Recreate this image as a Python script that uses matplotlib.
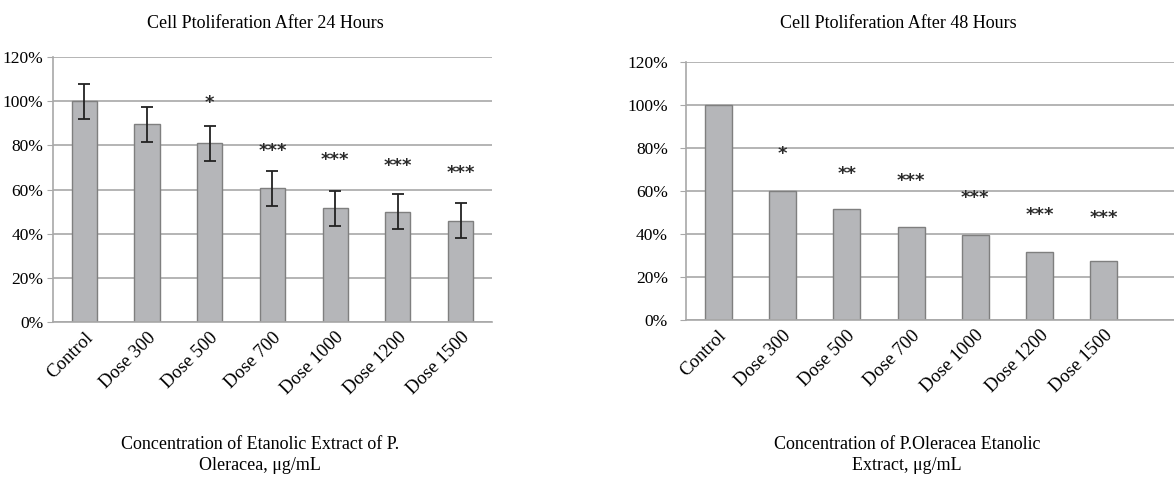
import matplotlib.pyplot as plt
from matplotlib.ticker import PercentFormatter

plt.rcParams['font.family'] = ['Liberation Serif', 'DejaVu Serif']

categories = ['Control', 'Dose 300', 'Dose 500', 'Dose 700', 'Dose 1000', 'Dose 1200', 'Dose 1500']

# 24 hours (percent of control)
vals_24 = [100, 89.5, 81, 60.5, 51.5, 50, 46]
err_24 = [8, 8, 8, 8, 8, 8, 8]
stars_24 = ['', '', '*', '***', '***', '***', '***']
star_y_24 = [0, 0, 99, 77.5, 73.5, 70.5, 67.5]

# 48 hours
vals_48 = [100, 60, 51.5, 43.5, 39.5, 31.5, 27.5]
stars_48 = ['', '*', '**', '***', '***', '***', '***']
star_y_48 = [0, 77.5, 68, 64.5, 57, 49, 47.5]

bar_color = '#b5b6b9'
edge_color = '#7f7f7f'
grid_color = '#a8a8a8'

fig = plt.figure(figsize=(11.74, 4.8), dpi=100)
ax1 = fig.add_axes([0.0451, 0.329, 0.374, 0.552])
ax2 = fig.add_axes([0.5843, 0.3333, 0.4157, 0.537])


def style(ax, ypad):
    ax.set_ylim(0, 120)
    ax.set_yticks(range(0, 121, 20))
    ax.yaxis.set_major_formatter(PercentFormatter(decimals=0))
    ax.grid(axis='y', color=grid_color, linewidth=1.2)
    ax.set_axisbelow(True)
    for s in ['top', 'right']:
        ax.spines[s].set_visible(False)
    for s in ['left', 'bottom']:
        ax.spines[s].set_color(grid_color)
        ax.spines[s].set_linewidth(1.2)
    ax.tick_params(axis='y', length=4, color=grid_color, labelsize=12.5, pad=ypad)
    ax.tick_params(axis='x', length=0, labelsize=13.5, pad=5)
    ax.set_xticks(range(len(categories)))
    ax.set_xticklabels(categories, rotation=45, ha='right', rotation_mode='anchor')


x = range(len(categories))

ax1.bar(x, vals_24, width=0.4, color=bar_color, edgecolor=edge_color, linewidth=1)
ax1.errorbar(x, vals_24, yerr=err_24, fmt='none', ecolor='#222222', elinewidth=1.3, capsize=4, capthick=1.3)
ax1.set_xlim(-0.5, len(categories) - 0.5)
style(ax1, 3)
for i, s in enumerate(stars_24):
    if s:
        ax1.text(i, star_y_24[i], s, ha='center', va='center', fontsize=13, color='#2a2a2a',
                 family='DejaVu Sans', fontweight='bold')

ax2.bar(x, vals_48, width=0.42, color=bar_color, edgecolor=edge_color, linewidth=1)
ax2.set_xlim(-0.5, 7.09)
style(ax2, 9)
for i, s in enumerate(stars_48):
    if s:
        ax2.text(i, star_y_48[i], s, ha='center', va='center', fontsize=13, color='#2a2a2a',
                 family='DejaVu Sans', fontweight='bold')

fig.text(265 / 1174, 1 - 23 / 480, 'Cell Ptoliferation After 24 Hours', ha='center', va='center', fontsize=13)
fig.text(898 / 1174, 1 - 23 / 480, 'Cell Ptoliferation After 48 Hours', ha='center', va='center', fontsize=13)
fig.text(260 / 1174, 1 - 455 / 480, 'Concentration of Etanolic Extract of P.\nOleracea, μg/mL',
         ha='center', va='center', fontsize=13, linespacing=1.25)
fig.text(907 / 1174, 1 - 455 / 480, 'Concentration of P.Oleracea Etanolic\nExtract, μg/mL',
         ha='center', va='center', fontsize=13, linespacing=1.25)

fig.savefig('out.png', dpi=100)
